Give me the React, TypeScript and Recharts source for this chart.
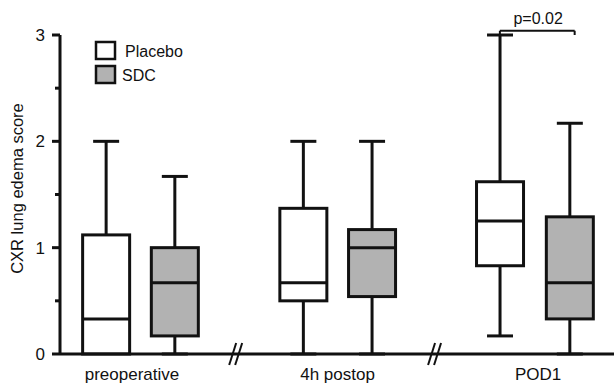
import { Bar, ComposedChart, ReferenceDot, ReferenceLine, XAxis, YAxis } from "recharts";

// groups along the x axis
const groups = ["preoperative", "4h postop", "POD1"];
const groupLabelAt = [13.0, 50.1, 86.3];
const placeboAt = [8.3, 43.9, 79.4];
const sdcAt = [20.7, 56.3, 92.0];
const breaksAt = [31.8, 67.7];

// box statistics (CXR lung edema score)
const placeboMin = [0, 0, 0.17];
const placeboQ1 = [0, 0.5, 0.83];
const placeboMedian = [0.33, 0.67, 1.25];
const placeboQ3 = [1.12, 1.37, 1.62];
const placeboMax = [2, 2, 3];

const sdcMin = [0, 0, 0];
const sdcQ1 = [0.17, 0.54, 0.33];
const sdcMedian = [0.67, 1.0, 0.67];
const sdcQ3 = [1.0, 1.17, 1.29];
const sdcMax = [1.67, 2, 2.17];

const yTicks = [0, 0.5, 1, 1.5, 2, 2.5, 3];
const pValue = "p=0.02";

const INK = "#111";
const FONT = "'Liberation Sans', Arial, sans-serif";

const boxes = [
  ...groups.map((g, i) => ({
    x: placeboAt[i],
    series: "Placebo",
    fill: "#ffffff",
    min: placeboMin[i],
    q1: placeboQ1[i],
    median: placeboMedian[i],
    q3: placeboQ3[i],
    max: placeboMax[i],
    range: [placeboMin[i], placeboMax[i]],
  })),
  ...groups.map((g, i) => ({
    x: sdcAt[i],
    series: "SDC",
    fill: "#b2b2b2",
    min: sdcMin[i],
    q1: sdcQ1[i],
    median: sdcMedian[i],
    q3: sdcQ3[i],
    max: sdcMax[i],
    range: [sdcMin[i], sdcMax[i]],
  })),
];

function BoxShape(props: any) {
  const { x, y, width, height, payload } = props;
  const top = Math.min(y, y + height);
  const h = Math.abs(height);
  const span = payload.max - payload.min || 1;
  const yOf = (v: number) => top + ((payload.max - v) / span) * h;
  const cx = x + width / 2;
  const cap = 13;
  return (
    <g stroke={INK} strokeWidth={3}>
      <line x1={cx} x2={cx} y1={yOf(payload.max)} y2={yOf(payload.q3)} />
      <line x1={cx - cap} x2={cx + cap} y1={yOf(payload.max)} y2={yOf(payload.max)} />
      {payload.q1 > payload.min && (
        <>
          <line x1={cx} x2={cx} y1={yOf(payload.q1)} y2={yOf(payload.min)} />
          <line x1={cx - cap} x2={cx + cap} y1={yOf(payload.min)} y2={yOf(payload.min)} />
        </>
      )}
      <rect
        x={x}
        y={yOf(payload.q3)}
        width={width}
        height={yOf(payload.q1) - yOf(payload.q3)}
        fill={payload.fill}
      />
      <line x1={x} x2={x + width} y1={yOf(payload.median)} y2={yOf(payload.median)} />
    </g>
  );
}

function YTick({ x, y, payload }: any) {
  const major = Number.isInteger(payload.value);
  return (
    <g>
      <line x1={x - (major ? 8 : 5)} x2={x} y1={y} y2={y} stroke={INK} strokeWidth={3} />
      {major && (
        <text x={x - 15} y={y + 6} textAnchor="end" fontSize={17} fontFamily={FONT} fill={INK}>
          {payload.value}
        </text>
      )}
    </g>
  );
}

function XTick({ x, y, index }: any) {
  return (
    <text x={x} y={y + 26} textAnchor="middle" fontSize={17} fontFamily={FONT} fill={INK}>
      {groups[index]}
    </text>
  );
}

function BreakMark({ cx, cy }: any) {
  return (
    <g stroke={INK} strokeWidth={2}>
      <line x1={cx - 7} y1={cy + 11} x2={cx} y2={cy - 11} />
      <line x1={cx - 1} y1={cy + 11} x2={cx + 6} y2={cy - 11} />
    </g>
  );
}

function LegendOverlay() {
  const items = [
    { name: "Placebo", fill: "#ffffff" },
    { name: "SDC", fill: "#b2b2b2" },
  ];
  return (
    <svg width={110} height={50} style={{ position: "absolute", left: 93, top: 39 }}>
      {items.map((it, i) => (
        <g key={it.name}>
          <rect x={3} y={3 + i * 24} width={19} height={17} fill={it.fill} stroke={INK} strokeWidth={2.5} />
          <text
            x={i === 0 ? 32 : 29}
            y={18 + i * 24}
            fontSize={16}
            fontFamily={FONT}
            fill={INK}
          >
            {it.name}
          </text>
        </g>
      ))}
    </svg>
  );
}

export default function App() {
  return (
    <div style={{ position: "relative", width: 614, height: 389, background: "#fff" }}>
      <style>{`body{margin:0}`}</style>
      <ComposedChart
        width={614}
        height={389}
        data={boxes}
        margin={{ top: 35, right: 0, bottom: 0, left: 0 }}
      >
        <XAxis
          dataKey="x"
          type="number"
          domain={[0, 100]}
          ticks={groupLabelAt}
          tick={<XTick />}
          tickLine={false}
          tickSize={0}
          tickMargin={0}
          height={35}
          axisLine={{ stroke: INK, strokeWidth: 3 }}
          interval={0}
        />
        <YAxis
          type="number"
          domain={[0, 3]}
          ticks={yTicks}
          tick={<YTick />}
          tickLine={false}
          tickSize={0}
          tickMargin={0}
          width={60}
          interval={0}
          axisLine={{ stroke: INK, strokeWidth: 3 }}
          label={({ viewBox }: any) => (
            <text
              x={17}
              y={viewBox.y + viewBox.height / 2 - 6}
              transform={`rotate(-90, 17, ${viewBox.y + viewBox.height / 2 - 6})`}
              textAnchor="middle"
              dominantBaseline="central"
              fontSize={16.5}
              fontFamily={FONT}
              fill={INK}
            >
              CXR lung edema score
            </text>
          )}
        />
        <Bar dataKey="range" barSize={47} shape={<BoxShape />} isAnimationActive={false} />
        <ReferenceLine
          segment={[{ x: placeboAt[2], y: 3.04 }, { x: 92.9, y: 3.04 }]}
          stroke={INK}
          strokeWidth={2}
          ifOverflow="visible"
        />
        <ReferenceLine
          segment={[{ x: 92.9, y: 3.04 }, { x: 92.9, y: 3.0 }]}
          stroke={INK}
          strokeWidth={2}
          ifOverflow="visible"
        />
        <ReferenceLine
          segment={[{ x: placeboAt[2], y: 3.04 }, { x: placeboAt[2], y: 3.0 }]}
          stroke={INK}
          strokeWidth={2}
          ifOverflow="visible"
        />
        <ReferenceDot
          x={86.3}
          y={3.04}
          r={0}
          ifOverflow="visible"
          fill="none"
          stroke="none"
          label={{ value: pValue, position: "top", offset: 7, fontSize: 16, fontFamily: FONT, fill: INK }}
        />
        {breaksAt.map((b) => (
          <ReferenceDot key={b} x={b} y={0} r={8} ifOverflow="visible" shape={<BreakMark />} />
        ))}
      </ComposedChart>
      <LegendOverlay />
    </div>
  );
}
